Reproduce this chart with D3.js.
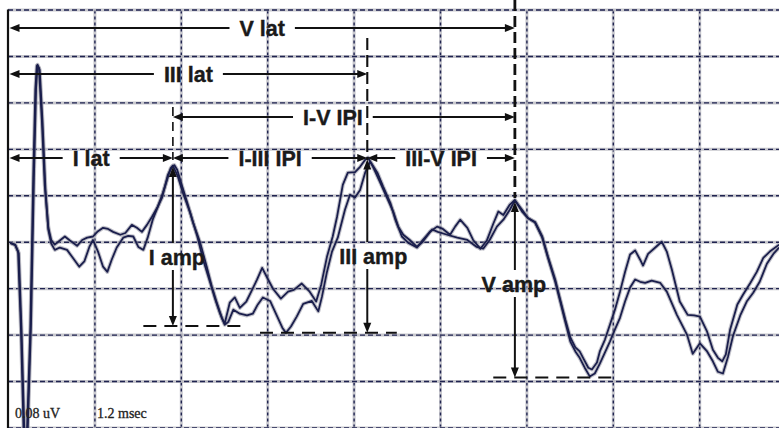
<!DOCTYPE html>
<html><head><meta charset="utf-8">
<script src="https://cdn.jsdelivr.net/npm/d3@7"></script>
<style>html,body{margin:0;padding:0;background:#fff;} svg{display:block;}</style>
</head><body>
<svg id="c" width="779" height="428"></svg>
<script>
// ---- data: time (ms), amplitude (uV) ----
const traceA = [[0.03,-0.002],[0.10,-0.005],[0.14,-0.017],[0.18,-0.151],[0.22,-0.341],[0.26,-0.341],[0.31,-0.151],[0.35,0.107],[0.38,0.262],[0.40,0.303],[0.43,0.299],[0.47,0.210],[0.51,0.098],[0.56,0.024],[0.60,0.003],[0.65,-0.005],[0.72,0.002],[0.79,0.009],[0.86,0.002],[0.96,-0.007],[1.03,0.003],[1.10,0.007],[1.18,0.009],[1.24,0.017],[1.32,0.024],[1.39,0.022],[1.46,0.017],[1.56,0.012],[1.63,0.015],[1.72,0.029],[1.79,0.024],[1.86,0.017],[1.93,0.029],[2.00,0.043],[2.07,0.058],[2.14,0.076],[2.18,0.095],[2.22,0.115],[2.28,0.129],[2.31,0.132],[2.35,0.124],[2.42,0.095],[2.49,0.067],[2.57,0.033],[2.67,-0.002],[2.76,-0.043],[2.83,-0.077],[2.90,-0.105],[2.97,-0.131],[3.01,-0.141],[3.08,-0.105],[3.15,-0.096],[3.22,-0.114],[3.31,-0.103],[3.39,-0.083],[3.46,-0.065],[3.53,-0.045],[3.60,-0.062],[3.68,-0.081],[3.79,-0.098],[3.89,-0.086],[3.97,-0.083],[4.08,-0.072],[4.19,-0.086],[4.28,-0.103],[4.35,-0.074],[4.43,-0.026],[4.51,0.009],[4.57,0.043],[4.65,0.098],[4.72,0.119],[4.82,0.120],[4.89,0.129],[4.96,0.141],[5.00,0.145],[5.07,0.129],[5.17,0.102],[5.26,0.077],[5.35,0.052],[5.42,0.026],[5.49,0.012],[5.58,0.003],[5.68,-0.009],[5.76,0.000],[5.86,0.017],[5.96,0.026],[6.04,0.022],[6.14,0.012],[6.21,0.026],[6.28,0.038],[6.38,0.024],[6.46,0.003],[6.56,-0.012],[6.65,0.002],[6.74,0.031],[6.81,0.052],[6.88,0.046],[6.97,0.064],[7.04,0.072],[7.14,0.052],[7.22,0.041],[7.32,0.034],[7.42,0.009],[7.50,-0.026],[7.60,-0.065],[7.67,-0.100],[7.74,-0.134],[7.81,-0.165],[7.88,-0.182],[7.94,-0.189],[8.00,-0.203],[8.06,-0.217],[8.11,-0.220],[8.18,-0.208],[8.22,-0.189],[8.29,-0.169],[8.36,-0.143],[8.43,-0.117],[8.50,-0.086],[8.57,-0.052],[8.64,-0.022],[8.71,-0.015],[8.78,-0.031],[8.82,-0.041],[8.89,-0.021],[8.99,-0.010],[9.08,0.000],[9.15,-0.017],[9.22,-0.048],[9.33,-0.103],[9.44,-0.126],[9.53,-0.127],[9.61,-0.129],[9.71,-0.155],[9.79,-0.186],[9.86,-0.200],[9.92,-0.206],[9.97,-0.194],[10.03,-0.151],[10.13,-0.108],[10.21,-0.091],[10.31,-0.071],[10.40,-0.052],[10.49,-0.028],[10.58,-0.017],[10.71,-0.005]];

const traceB = [[0.03,-0.002],[0.10,-0.006],[0.15,-0.020],[0.19,-0.160],[0.23,-0.341],[0.27,-0.341],[0.32,-0.140],[0.36,0.110],[0.39,0.265],[0.41,0.305],[0.44,0.296],[0.48,0.205],[0.52,0.090],[0.56,0.021],[0.60,-0.003],[0.65,-0.014],[0.72,-0.010],[0.82,-0.014],[0.89,-0.026],[0.99,-0.043],[1.06,-0.034],[1.13,-0.009],[1.18,0.003],[1.25,-0.017],[1.32,-0.043],[1.38,-0.052],[1.44,-0.031],[1.51,-0.010],[1.60,0.007],[1.67,0.010],[1.74,0.009],[1.81,-0.009],[1.88,-0.014],[1.94,0.007],[2.01,0.038],[2.08,0.060],[2.15,0.084],[2.21,0.107],[2.26,0.127],[2.29,0.131],[2.36,0.112],[2.43,0.084],[2.53,0.050],[2.63,0.009],[2.71,-0.031],[2.81,-0.071],[2.88,-0.100],[2.94,-0.122],[3.01,-0.143],[3.06,-0.138],[3.13,-0.117],[3.22,-0.124],[3.32,-0.127],[3.40,-0.124],[3.47,-0.108],[3.54,-0.096],[3.64,-0.102],[3.74,-0.129],[3.81,-0.148],[3.86,-0.157],[3.93,-0.146],[4.01,-0.129],[4.10,-0.107],[4.22,-0.102],[4.31,-0.120],[4.36,-0.095],[4.43,-0.052],[4.50,-0.017],[4.58,0.007],[4.68,0.055],[4.75,0.081],[4.82,0.076],[4.89,0.089],[4.96,0.119],[5.03,0.138],[5.13,0.119],[5.21,0.095],[5.31,0.067],[5.38,0.038],[5.47,0.009],[5.56,-0.002],[5.68,-0.010],[5.76,0.003],[5.89,0.021],[5.97,0.017],[6.10,0.012],[6.24,0.007],[6.38,0.003],[6.51,-0.009],[6.60,-0.012],[6.69,0.003],[6.79,0.026],[6.88,0.038],[6.97,0.055],[7.04,0.071],[7.14,0.055],[7.22,0.041],[7.32,0.033],[7.42,0.007],[7.50,-0.028],[7.60,-0.069],[7.67,-0.103],[7.74,-0.138],[7.81,-0.172],[7.88,-0.189],[7.94,-0.200],[8.01,-0.217],[8.08,-0.232],[8.15,-0.227],[8.22,-0.210],[8.29,-0.191],[8.36,-0.172],[8.43,-0.151],[8.50,-0.131],[8.57,-0.103],[8.64,-0.079],[8.71,-0.065],[8.78,-0.069],[8.85,-0.071],[8.94,-0.067],[9.06,-0.071],[9.15,-0.086],[9.29,-0.126],[9.43,-0.160],[9.51,-0.193],[9.61,-0.175],[9.71,-0.189],[9.79,-0.206],[9.86,-0.224],[9.93,-0.227],[10.00,-0.198],[10.07,-0.162],[10.17,-0.127],[10.26,-0.103],[10.35,-0.088],[10.44,-0.069],[10.54,-0.038],[10.63,-0.021],[10.71,-0.010]];

const timeTicks = [1.2, 2.4, 3.6, 4.8, 6.0, 7.2, 8.4, 9.6];
const voltTicks = [-0.32, -0.24, -0.16, -0.08, 0, 0.08, 0.16, 0.24, 0.32, 0.40];

const peakNames   = ["I", "III", "V"];
const peakLatency = [2.29, 4.99, 7.04];
const peakAmp     = [0.132, 0.145, 0.072];
const troughAmp   = [-0.145, -0.157, -0.234];
const baseStart   = [1.88, 3.50, 6.74];
const baseEnd     = [3.26, 5.40, 8.39];

const intervalLabels = ["V lat", "III lat", "I-V IPI", "I lat", "I-III IPI", "III-V IPI"];
const intervalFrom   = [null, null, "I", null, "I", "III"];   // null = stimulus onset
const intervalTo     = ["V", "III", "V", "I", "III", "V"];
const scaleLabels    = ["0.08 uV", "1.2 msec"];

// ---- layout ----
const W = 779, H = 428;
const svg = d3.select("#c");
svg.append("rect").attr("width", W).attr("height", H).attr("fill", "#fff");

const x = d3.scaleLinear().domain([0, 10.8]).range([8, 785.6]);
const y = d3.scaleLinear().domain([-0.32, 0.40]).range([427.5, 9.5]);

const rowY = [28, 74, 117, 158, 158, 158];
const rowDx = [0, 0, -11, 0, 0, 0];
const dashTop = [107, 38, 0];
const dashStyle = [{w:1.6, d:"9,6"}, {w:2.1, d:"12,5"}, {w:2.8, d:"11,5"}];
const ampLabelY = [258, 257, 285];
const ampLabelDx = [4, 6, -1];

const INK = "#111";
const GRID = "#1f2350";
const FONT = "'Liberation Sans', Arial, sans-serif";

// ---- grid via axes ----
const gridG = svg.append("g");
function styleGrid(g, dash) {
  g.select(".domain").remove();
  g.selectAll(".tick text").remove();
  g.selectAll(".tick line").each(function() {
    const ln = d3.select(this);
    const clone = this.cloneNode();
    this.parentNode.insertBefore(clone, this);
    d3.select(clone).attr("stroke", "#b4b4bc").attr("stroke-width", 3).attr("opacity", 0.75);
    ln.attr("stroke", GRID).attr("stroke-width", 1.4).attr("stroke-dasharray", dash);
  });
}
gridG.append("g")
  .attr("transform", `translate(0,${y(-0.32)})`)
  .call(d3.axisBottom(x).tickValues(timeTicks).tickSize(-(y(-0.32) - y(0.40))).tickFormat(""))
  .call(g => styleGrid(g, "3,3"));
gridG.append("g")
  .attr("transform", `translate(${x(0)},0)`)
  .call(d3.axisLeft(y).tickValues(voltTicks).tickSize(-(W - x(0) + 10)).tickFormat(""))
  .call(g => styleGrid(g, "5,3"));

// left solid axis
svg.append("line").attr("x1", x(0)).attr("x2", x(0)).attr("y1", y(0.40)).attr("y2", H)
  .attr("stroke", INK).attr("stroke-width", 2.2);

// ---- traces ----
const line = d3.line().x(d => x(d[0])).y(d => y(d[1]));
const clipId = "clipPlot";
svg.append("clipPath").attr("id", clipId).append("rect").attr("x", x(0)).attr("y", 0).attr("width", W).attr("height", H);
const tg = svg.append("g").attr("clip-path", `url(#${clipId})`);
[traceA, traceB].forEach(tr => {
  tg.append("path").attr("d", line(tr)).attr("fill", "none").attr("stroke", "#8f909e")
    .attr("stroke-width", 4).attr("stroke-linejoin", "round").attr("opacity", 0.55);
});
[traceA, traceB].forEach(tr => {
  tg.append("path").attr("d", line(tr)).attr("fill", "none").attr("stroke", "#1a1e4c")
    .attr("stroke-width", 1.8).attr("stroke-linejoin", "round");
});

// ---- annotations ----
const ann = svg.append("g");
const lat = name => name === null ? 0 : peakLatency[peakNames.indexOf(name)];

function head(px, py, dir) {
  const L = 10, hw = 4;
  let pts;
  if (dir === "l") pts = [[px, py], [px + L, py - hw], [px + L, py + hw]];
  if (dir === "r") pts = [[px, py], [px - L, py - hw], [px - L, py + hw]];
  if (dir === "u") pts = [[px, py], [px - hw, py + L], [px + hw, py + L]];
  if (dir === "d") pts = [[px, py], [px - hw, py - L], [px + hw, py - L]];
  ann.append("path").attr("d", "M" + pts.map(p => p.join(",")).join("L") + "Z").attr("fill", INK);
}
function seg(x1, y1, x2, y2, w) {
  ann.append("line").attr("x1", x1).attr("y1", y1).attr("x2", x2).attr("y2", y2)
    .attr("stroke", INK).attr("stroke-width", w || 2);
}
function label(txt, cx, by) {
  return ann.append("text").attr("x", cx).attr("y", by).attr("text-anchor", "middle")
    .attr("font-family", FONT).attr("font-weight", "bold").attr("font-size", 21.5)
    .attr("fill", "#1a1a1a").attr("stroke", "#1a1a1a").attr("stroke-width", 0.4).text(txt);
}

// dashed vertical guide lines
peakNames.forEach((n, i) => {
  const px = x(peakLatency[i]);
  const bottom = i === 2 ? y(peakAmp[i]) - 2 : 160;
  ann.append("line").attr("x1", px).attr("x2", px).attr("y1", dashTop[i]).attr("y2", bottom)
    .attr("stroke", INK).attr("stroke-width", dashStyle[i].w).attr("stroke-dasharray", dashStyle[i].d);
});

// horizontal latency / IPI arrows
intervalLabels.forEach((txt, i) => {
  const x1 = x(lat(intervalFrom[i])) + (intervalFrom[i] === null ? 1.5 : 0);
  const x2 = x(lat(intervalTo[i]));
  const ry = rowY[i];
  const cx = (x1 + x2) / 2 + rowDx[i];
  const t = label(txt, cx, ry + 8);
  const w = t.node().getComputedTextLength();
  const gap = 10;
  seg(x1 + 4, ry, cx - w / 2 - gap, ry);
  seg(cx + w / 2 + gap, ry, x2 - 4, ry);
  head(x1, ry, "l");
  head(x2, ry, "r");
});

// amplitude arrows and baselines
peakNames.forEach((n, i) => {
  const px = x(peakLatency[i]);
  const yTop = y(peakAmp[i]) + 2, yBot = y(troughAmp[i]);
  const ly = ampLabelY[i];
  seg(px, yTop + 4, px, ly - 15);
  seg(px, ly + 12, px, yBot - 4);
  head(px, yTop, "u");
  head(px, yBot, "d");
  label(n + " amp", px + ampLabelDx[i], ly + 7);
  ann.append("line").attr("x1", x(baseStart[i])).attr("x2", x(baseEnd[i]))
    .attr("y1", yBot).attr("y2", yBot).attr("stroke", INK).attr("stroke-width", 2)
    .attr("stroke-dasharray", "13,8");
});

// scale labels
[15, 97].forEach((lx, i) => {
  svg.append("text").attr("x", lx).attr("y", 418)
    .attr("font-family", "'Liberation Serif', 'Times New Roman', serif")
    .attr("font-size", 14).attr("fill", "#222").attr("stroke", "#222").attr("stroke-width", 0.3)
    .text(scaleLabels[i]);
});
</script>
</body></html>
